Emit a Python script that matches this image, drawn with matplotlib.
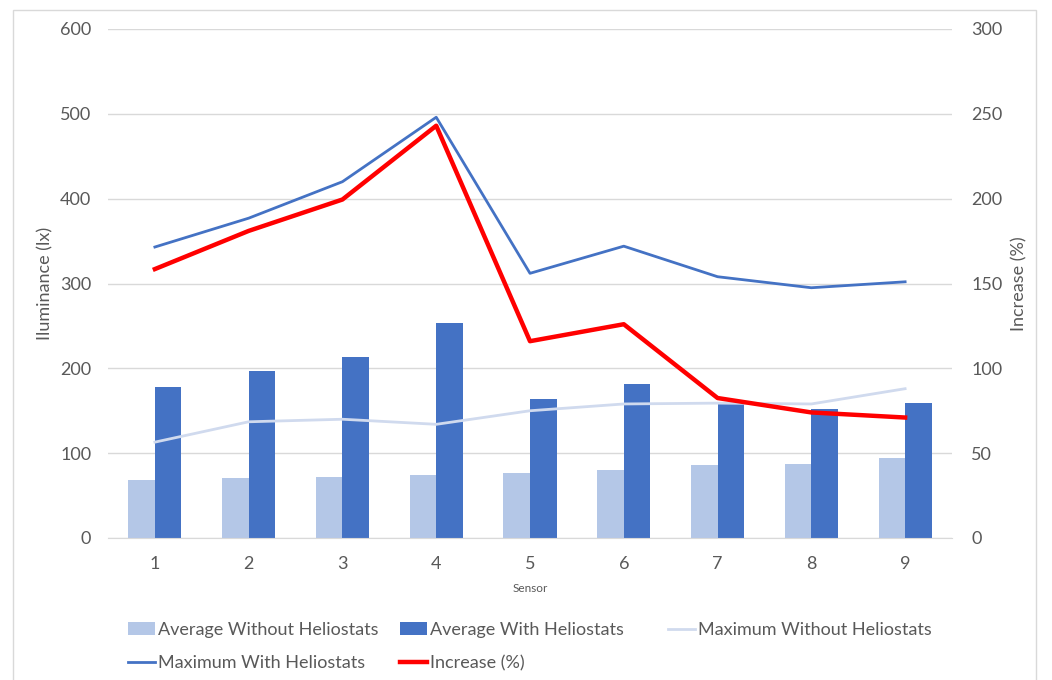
import matplotlib.pyplot as plt
import numpy as np
from matplotlib.patches import Rectangle

sensors = [1, 2, 3, 4, 5, 6, 7, 8, 9]
avg_without = [68, 71, 72, 74, 77, 80, 86, 87, 94]
avg_with = [178, 197, 213, 254, 164, 182, 158, 152, 159]
max_without = [113, 137, 140, 134, 150, 158, 159, 158, 176]
max_with = [343, 377, 420, 496, 312, 344, 308, 295, 302]
increase_pct = [158.5, 181, 199.5, 243, 116, 126, 82.5, 74, 71]

plt.rcParams['font.family'] = ['Lato', 'DejaVu Sans']
text_col = "#595959"
grid_col = "#D9D9D9"
W, H = 1052, 680

fig = plt.figure(figsize=(W / 100, H / 100), dpi=100)
fig.patches.append(Rectangle((13 / W, -0.05), (1036 - 13) / W, 1.05 - 10 / H,
                             transform=fig.transFigure, fill=False, edgecolor="#D9D9D9", lw=1.0))

ax = fig.add_axes([108 / W, 1 - 538 / H, (952 - 108) / W, (538 - 29) / H])
ax2 = ax.twinx()

x = np.array(sensors)
w = 0.283
b1 = ax.bar(x - w / 2, avg_without, width=w, color="#B4C7E7", label="Average Without Heliostats", zorder=2)
b2 = ax.bar(x + w / 2, avg_with, width=w, color="#4472C4", label="Average With Heliostats", zorder=2)
l1, = ax.plot(x, max_without, color="#D0DAEE", lw=2.0, label="Maximum Without Heliostats", zorder=3)
l2, = ax.plot(x, max_with, color="#4472C4", lw=2.0, label="Maximum With Heliostats", zorder=3)
l3, = ax2.plot(x, increase_pct, color="#FF0000", lw=3.2, label="Increase (%)", zorder=3)

ax.set_xlim(0.5, 9.5)
ax.set_ylim(0, 600)
ax2.set_ylim(0, 300)
ax.set_yticks(np.arange(0, 601, 100))
ax2.set_yticks(np.arange(0, 301, 50))
ax.set_xticks(sensors)
ax.grid(axis="y", color=grid_col, lw=1.0, zorder=0)
ax.set_axisbelow(True)
for a in (ax, ax2):
    for s in a.spines.values():
        s.set_visible(False)
    a.tick_params(length=0, labelsize=13, colors=text_col)
ax.spines["bottom"].set_visible(True)
ax.spines["bottom"].set_color(grid_col)
ax.tick_params(axis="y", pad=12)
ax2.tick_params(axis="y", pad=14)
ax.tick_params(axis="x", pad=13)

ax.set_ylabel("Iluminance (lx)", fontsize=13, color=text_col, labelpad=5)
ax2.set_ylabel("Increase (%)", fontsize=13, color=text_col, labelpad=6)
ax.set_xlabel("Sensor", fontsize=8.5, color=text_col, labelpad=8)

# Excel-style legend: three columns at uneven positions
columns = [(128, [b1, l2]), (400, [b2, l3]), (668, [l1])]
for xpos, hs in columns:
    leg = fig.legend(handles=hs, labels=[h.get_label() for h in hs],
                     loc="upper left", bbox_to_anchor=(xpos / W, 1 - 622 / H),
                     frameon=False, fontsize=13, labelcolor=text_col,
                     handlelength=1.5, handletextpad=0.15, handleheight=0.7,
                     labelspacing=0.95, borderpad=0, borderaxespad=0)

fig.savefig("out.png", dpi=100)
